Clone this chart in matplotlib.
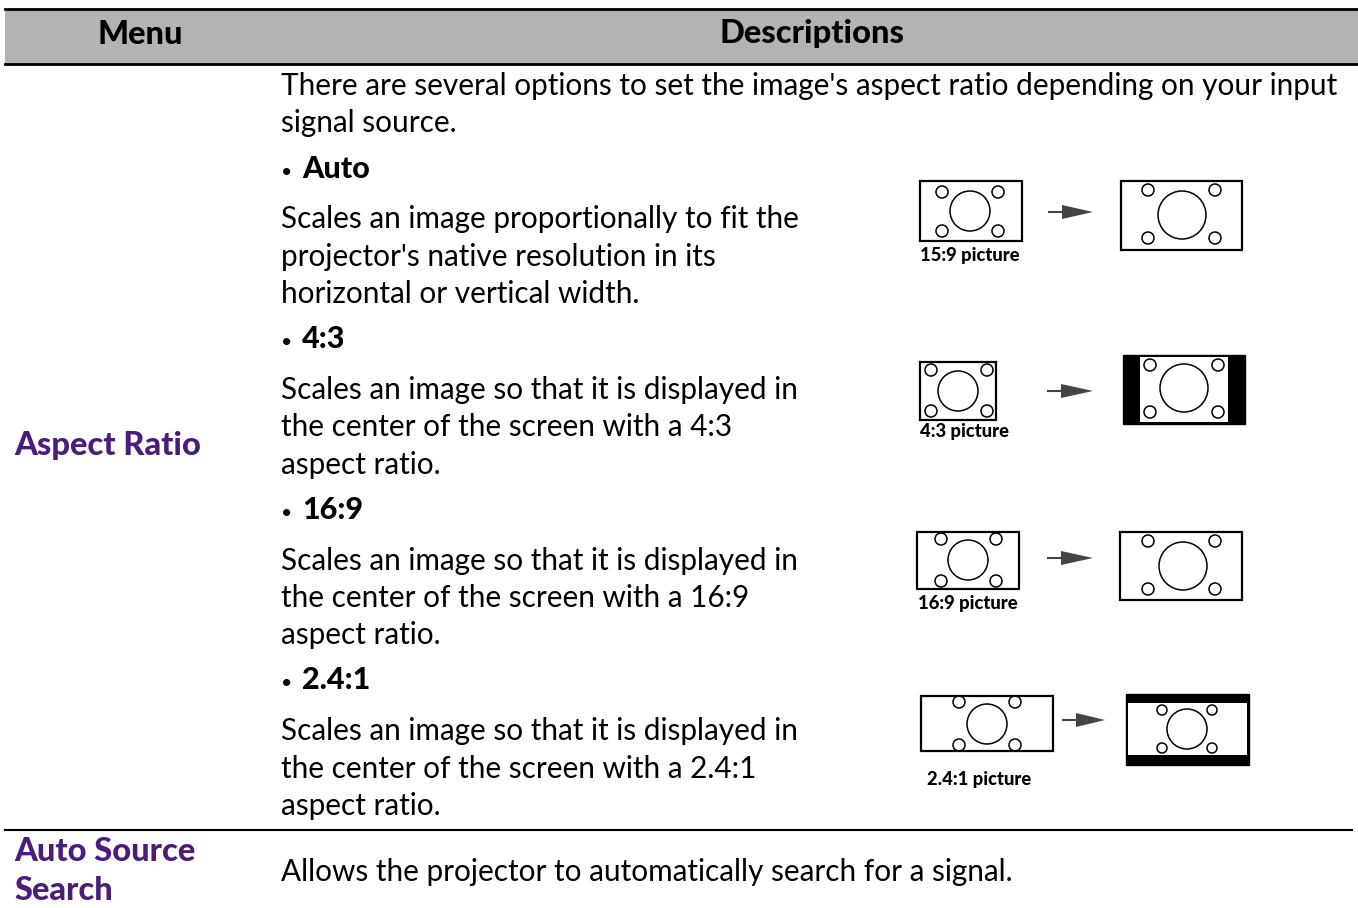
import matplotlib
matplotlib.use("Agg")
import matplotlib.pyplot as plt
from matplotlib.patches import Rectangle, Circle, Polygon

W, H = 1358, 908
FONT = ["Lato", "DejaVu Sans"]
PURPLE = "#4b1c7a"
BOLD = 900

# ---- content ----
headers = ["Menu", "Descriptions"]
menu_items = ["Aspect Ratio", "Auto Source\nSearch"]
intro_lines = ["There are several options to set the image's aspect ratio depending on your input",
               "signal source."]
option_names = ["Auto", "4:3", "16:9", "2.4:1"]
option_desc = [
    ["Scales an image proportionally to fit the", "projector's native resolution in its",
     "horizontal or vertical width."],
    ["Scales an image so that it is displayed in", "the center of the screen with a 4:3",
     "aspect ratio."],
    ["Scales an image so that it is displayed in", "the center of the screen with a 16:9",
     "aspect ratio."],
    ["Scales an image so that it is displayed in", "the center of the screen with a 2.4:1",
     "aspect ratio."],
]
picture_labels = ["15:9 picture", "4:3 picture", "16:9 picture", "2.4:1 picture"]
auto_source_desc = "Allows the projector to automatically search for a signal."

fig = plt.figure(figsize=(W / 100, H / 100), dpi=100)
ax = fig.add_axes([0, 0, 1, 1])
ax.set_xlim(0, W)
ax.set_ylim(H, 0)
ax.axis("off")

BODY = 21.4
HEAD = 23.5
OFF = 11
# header
ax.add_patch(Rectangle((5, 9), W - 5, 55, facecolor="#b3b3b3", edgecolor="none"))
ax.plot([5, W], [9, 9], color="black", lw=2)
ax.plot([5, W], [64, 64], color="black", lw=2)
ax.text(140, 34, headers[0], ha="center", va="center", fontsize=HEAD, fontweight=BOLD, family=FONT)
ax.text(812, 34, headers[1], ha="center", va="center", fontsize=HEAD, fontweight=BOLD, family=FONT)

def body(x, y, s, **kw):
    kw.setdefault("fontsize", BODY)
    ax.text(x, y + OFF, s, ha="left", va="baseline", family=FONT, color="black", **kw)

body(281, 84, intro_lines[0])
body(281, 121, intro_lines[1])
name_y = [167, 337, 508, 678]
desc_y = [[217, 255, 292], [388, 425, 463], [559, 596, 633], [729, 767, 804]]
for n, ny, lines, ys in zip(option_names, name_y, option_desc, desc_y):
    body(281, ny, "\u2022", fontsize=14)
    body(302, ny, n, fontweight=BOLD, fontsize=22)
    for s, yy in zip(lines, ys):
        body(281, yy, s)

for txt, yy in [(menu_items[0], 444), ("Auto Source", 850), ("Search", 889)]:
    ax.text(14, yy + OFF, txt, ha="left", va="baseline", fontsize=HEAD, fontweight=BOLD,
            color=PURPLE, family=FONT)
body(281, 870, auto_source_desc)

ax.plot([5, 1352], [830, 830], color="black", lw=1.5)

# ---- diagrams ----
def frame(x0, y0, x1, y1, lw=1.6):
    ax.add_patch(Rectangle((x0, y0), x1 - x0, y1 - y0, facecolor="white", edgecolor="black", lw=lw))

def circles(cx, cy, R, pts, r):
    ax.add_patch(Circle((cx, cy), R, facecolor="none", edgecolor="black", lw=1.1))
    for (px, py) in pts:
        ax.add_patch(Circle((px, py), r, facecolor="none", edgecolor="black", lw=1.1))

def arrow(x0, x1, y):
    ax.plot([x0, x0 + 16], [y, y], color="#444444", lw=1.5, solid_capstyle="butt")
    ax.add_patch(Polygon([[x0 + 14, y - 7], [x0 + 14, y + 7], [x1, y]], closed=True,
                         facecolor="#444444", edgecolor="none"))

def corners(xa, xb, ya, yb):
    return [(xa, ya), (xb, ya), (xa, yb), (xb, yb)]

def label(x, y, s):
    ax.text(x, y, s, ha="left", va="center", fontsize=13.2, fontweight=BOLD, family=FONT)

# Auto
frame(920, 181, 1022, 241)
circles(970, 211, 20, corners(942, 998, 192, 231), 6)
label(920, 255, picture_labels[0])
arrow(1048, 1093, 212)
frame(1121, 181, 1242, 250)
circles(1182, 215, 24, corners(1148, 1215, 190, 238), 6)

# 4:3
frame(920, 362, 996, 420)
circles(958, 391, 20, corners(931, 987, 370, 411), 6)
label(920, 432, picture_labels[1])
arrow(1047, 1093, 391)
ax.add_patch(Rectangle((1123, 355), 122, 69, facecolor="black", edgecolor="black"))
ax.add_patch(Rectangle((1140, 357), 88, 65, facecolor="white", edgecolor="none"))
circles(1184, 388, 24, corners(1150, 1218, 365, 412), 6)

# 16:9
frame(917, 532, 1019, 589)
circles(968, 560, 20, corners(941, 996, 539, 581), 6)
label(918, 604, picture_labels[2])
arrow(1047, 1093, 558)
frame(1120, 532, 1242, 600)
circles(1183, 566, 24, corners(1148, 1215, 541, 589), 6)

# 2.4:1
frame(921, 696, 1053, 751)
circles(987, 724, 20, corners(959, 1015, 702, 745), 6)
label(927, 780, picture_labels[3])
arrow(1062, 1105, 720)
ax.add_patch(Rectangle((1126, 694), 123, 71, facecolor="black", edgecolor="black"))
ax.add_patch(Rectangle((1128, 703), 119, 52, facecolor="white", edgecolor="none"))
circles(1187, 729, 20, corners(1162, 1212, 710, 748), 5)

fig.savefig("out.png", dpi=100)
